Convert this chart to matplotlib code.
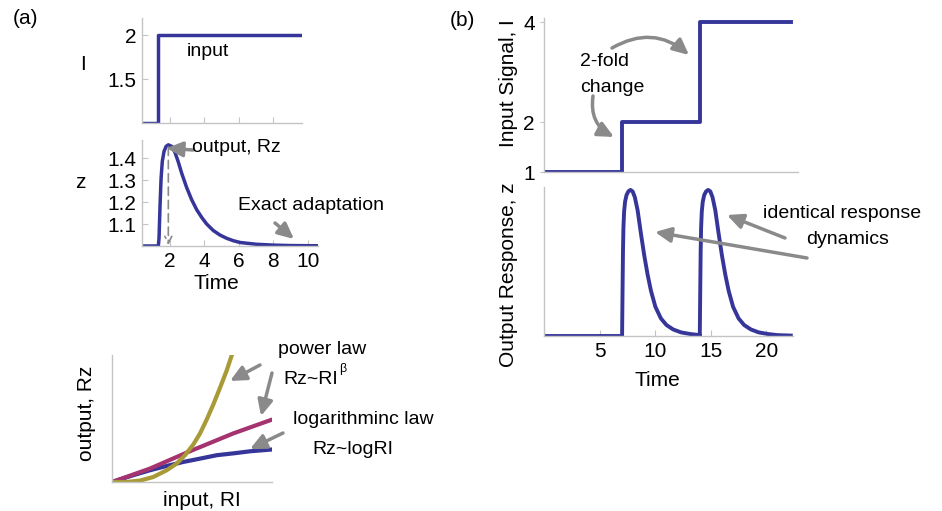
import numpy as np
import matplotlib
matplotlib.use("Agg")
import matplotlib.pyplot as plt

plt.rcParams['font.family'] = ['Liberation Sans', 'DejaVu Sans']

W, H = 942, 511
BLUE = '#35359a'
GREY = '#8a8a8a'
AXC = '#c4c4c4'

# ---------------- data ----------------
# (a) top: input step
a_in_t = [0.37, 1.3, 9.67]
a_in_I = [1.0, 2.0, 2.0]

# (a) middle: output z(t)
a_z_t = [0.37, 1.32, 1.36, 1.42, 1.48, 1.55, 1.65, 1.77, 1.90, 2.10, 2.29, 2.48,
         2.68, 2.97, 3.26, 3.55, 3.84, 4.13, 4.52, 4.90, 5.29, 5.68, 6.07, 7.0,
         8.0, 9.0, 10.6]
a_z_v = [1.0, 1.0, 1.036, 1.188, 1.309, 1.385, 1.43, 1.453, 1.46, 1.453, 1.425,
         1.382, 1.33, 1.265, 1.21, 1.165, 1.13, 1.10, 1.07, 1.05, 1.035, 1.024,
         1.016, 1.008, 1.004, 1.002, 1.001]
a_peak_t, a_peak_z = 1.9, 1.46

# (a) bottom: response laws
law_x_pow = [0, 0.09, 0.174, 0.257, 0.341, 0.404, 0.456, 0.508, 0.550, 0.592,
             0.634, 0.676, 0.718, 0.749]
law_y_pow = [0, 0, 0.011, 0.039, 0.092, 0.145, 0.211, 0.295, 0.382, 0.492,
             0.613, 0.745, 0.882, 1.0]
law_x_lin = [0, 0.236, 0.477, 0.757, 0.99]
law_y_lin = [0, 0.105, 0.237, 0.382, 0.487]
law_x_log = [0, 0.132, 0.236, 0.341, 0.446, 0.55, 0.655, 0.762, 0.864, 0.99]
law_y_log = [0, 0.053, 0.092, 0.126, 0.158, 0.184, 0.211, 0.226, 0.242, 0.255]

# (b) input steps and output pulse shape (time after each step)
b_step_t = [0.0, 7.0, 14.0]
b_levels = [1, 2, 4]
b_t_end = 22.2
pulse_tau = [0, 0.04, 0.08, 0.12, 0.18, 0.27, 0.4, 0.57, 0.75, 0.95, 1.15, 1.4,
             1.7, 2.0, 2.3, 2.6, 3.0, 3.5, 4.0, 4.6, 5.3, 6.1, 7.0, 8.2]
pulse_v = [0, 0.3, 0.58, 0.74, 0.85, 0.92, 0.965, 0.99, 1.0, 0.99, 0.95, 0.86,
           0.70, 0.55, 0.42, 0.31, 0.2, 0.12, 0.075, 0.045, 0.025, 0.014, 0.006,
           0.003]


def box(l, t, r, b):
    return [l / W, 1 - b / H, (r - l) / W, (b - t) / H]


def fp(x, y):
    return (x / W, 1 - y / H)


def style(ax):
    for s in ['top', 'right']:
        ax.spines[s].set_visible(False)
    for s in ['left', 'bottom']:
        ax.spines[s].set_color(AXC)
        ax.spines[s].set_linewidth(1.0)
    ax.tick_params(direction='in', length=4, color=AXC, labelsize=15, pad=4)


fig = plt.figure(figsize=(W / 100, H / 100), dpi=100)
arrow_kw = dict(arrowstyle='-|>,head_length=0.95,head_width=0.45', color=GREY,
                lw=2.5, shrinkA=0, shrinkB=0)


def fig_arrow(ax, p0, p1, **extra):
    kw = dict(arrow_kw)
    kw.update(extra)
    ax.annotate('', xy=fp(*p1), xycoords='figure fraction',
                xytext=fp(*p0), textcoords='figure fraction', arrowprops=kw)


# ---------------- (a) top ----------------
ax1 = fig.add_axes(box(142, 18, 302, 122.7))
ax1.plot(a_in_t, a_in_I, color=BLUE, lw=2.5, drawstyle='steps-post')
ax1.set_xlim(0.37, 9.67)
ax1.set_ylim(1.0, 2.2)
ax1.set_xticks([2, 4, 6, 8])
ax1.set_xticklabels([])
ax1.set_yticks([1.5, 2])
ax1.set_yticklabels(['1.5', '2'])
style(ax1)
fig.text(*fp(83, 65), 'I', fontsize=15, va='center', ha='center')
fig.text(*fp(187, 52), 'input', fontsize=14, va='center')

# ---------------- (a) middle ----------------
ax2 = fig.add_axes(box(142, 140, 318, 246))
ax2.plot(a_z_t, a_z_v, color=BLUE, lw=2.5)
ax2.set_xlim(0.37, 10.6)
ax2.set_ylim(1.0, 1.482)
ax2.set_xticks([2, 4, 6, 8, 10])
ax2.set_yticks([1.1, 1.2, 1.3, 1.4])
style(ax2)
fig.text(*fp(80, 182), 'z', fontsize=15, va='center', ha='center')
fig.text(*fp(216, 283), 'Time', fontsize=15, va='center', ha='center')
ax2.annotate('', xy=(a_peak_t, 1.004), xytext=(a_peak_t, a_peak_z - 0.01),
             arrowprops=dict(arrowstyle='->,head_length=0.5,head_width=0.25',
                             color=GREY, lw=1.2, ls=(0, (5, 3)),
                             shrinkA=0, shrinkB=0))
ax2.annotate('', xy=(a_peak_t - 0.1, a_peak_z - 0.015), xycoords='data',
             xytext=fp(193, 150), textcoords='figure fraction',
             arrowprops=arrow_kw)
fig.text(*fp(192, 147), 'output, Rz', fontsize=14, va='center')
fig.text(*fp(238, 206), 'Exact adaptation', fontsize=14, va='center')
fig_arrow(ax2, (275, 223), (294, 239))

# ---------------- (a) bottom ----------------
ax3 = fig.add_axes(box(112, 355, 272, 482))
ax3.plot(law_x_log, law_y_log, color=BLUE, lw=3)
ax3.plot(law_x_lin, law_y_lin, color='#a5336f', lw=3)
ax3.plot(law_x_pow, law_y_pow, color='#a89a36', lw=3)
ax3.set_xlim(0, 1)
ax3.set_ylim(0, 1)
ax3.set_xticks([])
ax3.set_yticks([])
style(ax3)
fig.text(*fp(86, 413), 'output, Rz', fontsize=15, va='center', ha='center',
         rotation=90)
fig.text(*fp(202, 500), 'input, RI', fontsize=15, va='center', ha='center')
fig.text(*fp(278, 350), 'power law', fontsize=14, va='center')
fig.text(*fp(283, 380), 'Rz~RI', fontsize=14, va='center')
fig.text(*fp(339, 369), 'β', fontsize=9, va='center')
fig.text(*fp(293, 420), 'logarithminc law', fontsize=14, va='center')
fig.text(*fp(312, 449), 'Rz~logRI', fontsize=14, va='center')
fig_arrow(ax3, (260, 365), (230, 381))
fig_arrow(ax3, (272, 373), (261, 416))
fig_arrow(ax3, (283, 433), (250, 449))

# ---------------- (b) top ----------------
ax4 = fig.add_axes(box(544.4, 18, 797.7, 172))
b_t = b_step_t + [b_t_end]
b_I = b_levels + [b_levels[-1]]
ax4.plot(b_t, b_I, color=BLUE, lw=2.8, drawstyle='steps-post')
ax4.set_xlim(0, 22.8)
ax4.set_ylim(1, 4.08)
ax4.set_xticks([])
ax4.set_yticks([1, 2, 4])
style(ax4)
ax4.tick_params(axis='y', direction='out', length=3)
fig.text(*fp(508, 83), 'Input Signal, I', fontsize=15, va='center', ha='center',
         rotation=90)
fig.text(*fp(580, 62), '2-fold', fontsize=14, va='center')
fig.text(*fp(580, 88), 'change', fontsize=14, va='center')
fig_arrow(ax4, (612, 48), (689, 55), connectionstyle='arc3,rad=-0.35')
fig_arrow(ax4, (593, 96), (614, 137), connectionstyle='arc3,rad=0.35')

# ---------------- (b) bottom ----------------
ax5 = fig.add_axes(box(544.4, 187, 793, 336))
out_t = [b_step_t[0]]
out_v = [0.0]
for k, ts in enumerate(b_step_t[1:]):
    t_next = b_step_t[k + 2] if k + 2 < len(b_step_t) else b_t_end
    for tau, v in zip(pulse_tau, pulse_v):
        if ts + tau <= t_next:
            out_t.append(ts + tau)
            out_v.append(v)
ax5.plot(out_t, out_v, color=BLUE, lw=2.8)
ax5.set_xlim(0, 22.4)
ax5.set_ylim(0, 1.02)
ax5.set_xticks([5, 10, 15, 20])
ax5.set_yticks([])
style(ax5)
fig.text(*fp(508, 275), 'Output Response, z', fontsize=15, va='center',
         ha='center', rotation=90)
fig.text(*fp(657, 380), 'Time', fontsize=15, va='center', ha='center')
fig.text(*fp(842, 213), 'identical response', fontsize=14, va='center', ha='center')
fig.text(*fp(848, 240), 'dynamics', fontsize=14, va='center', ha='center')
fig_arrow(ax5, (785, 238), (727, 215))
fig_arrow(ax5, (807, 258), (655, 232))

# panel labels
fig.text(*fp(25, 18), '(a)', fontsize=15, va='center', ha='center')
fig.text(*fp(462, 20), '(b)', fontsize=15, va='center', ha='center')

fig.savefig('out.png', dpi=100)
